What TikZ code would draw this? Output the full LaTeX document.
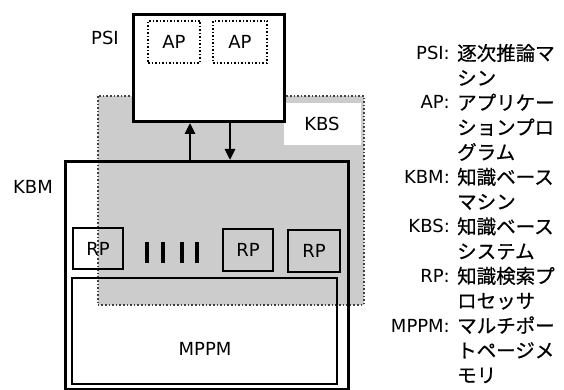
\documentclass[tikz,border=0pt]{standalone}
\usepackage{fontspec}
\setmainfont{DejaVu Sans}
\newfontfamily\jpfont[FakeBold=0.6]{Noto Sans CJK JP}
\usetikzlibrary{arrows.meta}
\begin{document}
\begin{tikzpicture}[x=1pt,y=-1pt,
  lbl/.style={font=\fontsize{18}{18}\selectfont, inner sep=0pt, text height=13pt, text depth=0pt},
  jp/.style={font=\fontsize{19.5}{19.5}\selectfont\jpfont, inner sep=0pt, text height=14.8pt, text depth=0pt, anchor=west},
  term/.style={lbl, anchor=east},
  thickbox/.style={draw, line width=3pt},
  thinbox/.style={draw, line width=2pt},
  apbox/.style={draw, dotted, line width=1.5pt},
  shade/.style={draw=black!75, dotted, line width=1.6pt, fill=black!20, inner sep=0pt},
  arr/.style={line width=2.6pt, -{Triangle[length=11pt,width=10pt]}},
  barline/.style={line width=3.2pt},
]
\useasboundingbox (0,0) rectangle (564,390);
\fill[white] (0,0) rectangle (564,390);

% knowledge base system (shaded area)
\node (kbs) [shade, minimum width=266pt, minimum height=209pt, anchor=north west] at (97,95) {};
\node (kbslab) [lbl, fill=white, minimum width=77pt, minimum height=42pt] at (322,124) {KBS};

% PSI
\node (psi) [thickbox, fill=white, minimum width=151pt, minimum height=107pt, anchor=north west] at (132,13) {};
\node (ap1) [apbox, lbl, minimum width=52pt, minimum height=42pt] at (174,42) {AP};
\node (ap2) [apbox, lbl, minimum width=54pt, minimum height=42pt] at (240,42) {AP};
\node (psilbl) [lbl] at (105,38) {PSI};

% KBM
\node (kbm) [thickbox, minimum width=283pt, minimum height=228pt, anchor=north west] at (64,160) {};
\node (kbmlbl) [lbl] at (33,187) {KBM};

% connectors
\coordinate (ux) at (190,140);
\coordinate (dx) at (230,140);
\draw[arr] (ux |- kbm.north) -- (ux |- psi.south);
\draw[arr] (dx |- psi.south) -- (dx |- kbm.north);

% RPs
\node (rp1) [thinbox, lbl, minimum width=50pt, minimum height=41pt] at (98,248.5) {RP};
\node (rp2) [thinbox, lbl, minimum width=50pt, minimum height=42pt] at (248,250) {RP};
\node (rp3) [thinbox, lbl, minimum width=52pt, minimum height=42pt] at (314,251) {RP};
\draw[barline] (147,242) -- (147,263);
\draw[barline] (163,242) -- (163,263);
\draw[barline] (182,242) -- (182,263);
\draw[barline] (197,242) -- (197,263);

% MPPM
\node (mppm) [thinbox, minimum width=265pt, minimum height=106pt] at (204.5,331) {};
\node (mppmlbl) [lbl] at (205,349) {MPPM};

% legend
\node (t1) [term] at (450,53) {PSI:};
\node (j1a) [jp] at (457,53) {逐次推論マ};
\node (j1b) [jp] at (457,77.8) {シン};
\node (t2) [term] at (450,102.5) {AP:};
\node (j2a) [jp] at (457,102.5) {アプリケー};
\node (j2b) [jp] at (457,127.3) {ションプロ};
\node (j2c) [jp] at (457,152.1) {グラム};
\node (t3) [term] at (450,176.9) {KBM:};
\node (j3a) [jp] at (457,176.9) {知識ベース};
\node (j3b) [jp] at (457,201.6) {マシン};
\node (t4) [term] at (450,226.4) {KBS:};
\node (j4a) [jp] at (457,226.4) {知識ベース};
\node (j4b) [jp] at (457,251.2) {システム};
\node (t5) [term] at (450,275.9) {RP:};
\node (j5a) [jp] at (457,275.9) {知識検索プ};
\node (j5b) [jp] at (457,300.7) {ロセッサ};
\node (t6) [term] at (450,325.5) {MPPM:};
\node (j6a) [jp] at (457,325.5) {マルチポー};
\node (j6b) [jp] at (457,350.3) {トページメ};
\node (j6c) [jp] at (457,375) {モリ};
\end{tikzpicture}
\end{document}
